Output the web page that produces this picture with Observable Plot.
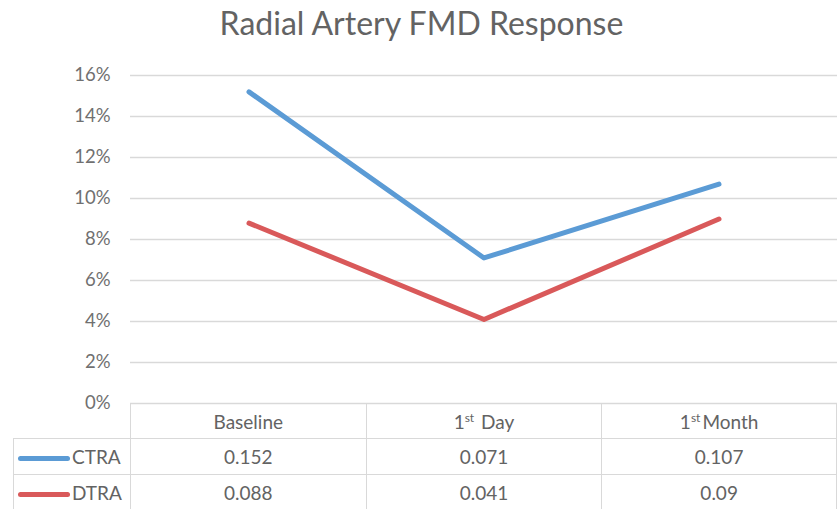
<!DOCTYPE html>
<html>
<head>
<meta charset="utf-8">
<script src="https://cdn.jsdelivr.net/npm/d3@7"></script>
<script src="https://cdn.jsdelivr.net/npm/@observablehq/plot@0.6"></script>
<style>
  body { margin: 0; background: #fff; font-family: Lato, "Open Sans", sans-serif; }
  #wrap { position: relative; width: 837px; height: 509px; overflow: hidden; background: #fff; }
  #title { position: absolute; top: 3px; left: 3px; width: 837px; text-align: center; font-size: 32px; color: #636363; line-height: 40px; }
  #chart { position: absolute; top: 50px; left: 0; }
  #tbl { position: absolute; top: 403px; left: 13px; border-collapse: collapse; table-layout: fixed; color: #636363; font-size: 19px; }
  #tbl td { border: 1.5px solid #d9d9d9; text-align: center; padding: 0; white-space: nowrap; }
  #tbl tr.h td { height: 34px; }
  #tbl tr.r td { height: 35px; }
  #tbl td.blank { border-top: hidden; border-left: hidden; }
  #tbl td.key { text-align: left; padding-left: 4px; }
  .swatch { display: inline-block; width: 52px; height: 5px; border-radius: 3px; vertical-align: middle; margin-right: 2px; position: relative; top: -1px; }
  sup { font-size: 12px; vertical-align: 7px; line-height: 0; margin-right: 2px; }
</style>
</head>
<body>
<div id="wrap">
  <div id="title">Radial Artery FMD Response</div>
  <div id="chart"></div>
  <table id="tbl"></table>
</div>
<script>
// ---- data ----
const categories = ["Baseline", "1st Day", "1st Month"];
const categoryLabels = ["Baseline", "1<sup>st</sup> Day", "1<sup>st</sup>Month"];
const seriesNames = ["CTRA", "DTRA"];
const ctra = [0.152, 0.071, 0.107];
const dtra = [0.088, 0.041, 0.09];
const yTicks = [0, 0.02, 0.04, 0.06, 0.08, 0.10, 0.12, 0.14, 0.16];
const colors = {CTRA: "#5b9bd5", DTRA: "#d9595a"};

const seriesValues = {CTRA: ctra, DTRA: dtra};
const rows = seriesNames.flatMap(s => categories.map((c, i) => ({series: s, cat: c, value: seriesValues[s][i]})));

const chart = Plot.plot({
  width: 837,
  height: 356,
  marginLeft: 130,
  marginRight: 0,
  marginTop: 25,
  marginBottom: 3,
  style: {fontFamily: "Lato, 'Open Sans', sans-serif", fontSize: "18.5px", color: "#707070", background: "white", overflow: "visible"},
  x: {domain: categories, type: "band", padding: 0, axis: null},
  y: {domain: [0, 0.16]},
  marks: [
    Plot.gridY(yTicks, {stroke: "#d9d9d9", strokeOpacity: 1, strokeWidth: 1.5}),
    Plot.axisY({ticks: yTicks, tickFormat: d3.format(".0%"), tickSize: 0, tickPadding: 20, label: null}),
    ...seriesNames.map(s => Plot.line(rows.filter(d => d.series === s), {
      x: "cat", y: "value", stroke: colors[s], strokeWidth: 5, strokeLinejoin: "round"
    }))
  ]
});
document.getElementById("chart").appendChild(chart);

// ---- data table ----
const colW = [117, 236, 236, 235];
const tbl = document.getElementById("tbl");
let html = "<colgroup>" + colW.map(w => `<col style="width:${w}px">`).join("") + "</colgroup>";
html += `<tr class="h"><td class="blank"></td>` + categoryLabels.map(l => `<td>${l}</td>`).join("") + "</tr>";
for (const s of seriesNames) {
  html += `<tr class="r"><td class="key"><span class="swatch" style="background:${colors[s]}"></span>${s}</td>` +
    seriesValues[s].map(v => `<td>${String(v)}</td>`).join("") + "</tr>";
}
tbl.innerHTML = html;
</script>
</body>
</html>
